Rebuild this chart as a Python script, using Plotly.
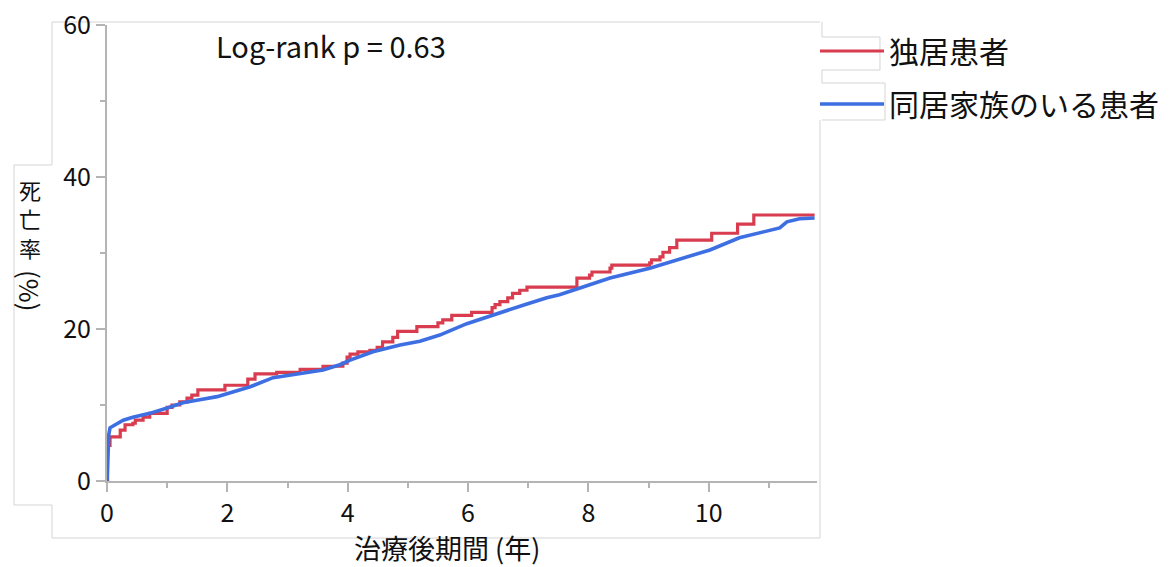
import plotly.graph_objects as go

# ---- data ----
alone_t = [0, 0.01, 0.05, 0.22, 0.30, 0.43, 0.47, 0.60, 0.71, 1.00, 1.08, 1.21, 1.33, 1.41, 1.51,
           1.96, 2.34, 2.46, 2.82, 3.21, 3.59, 3.92, 3.99, 4.04, 4.17, 4.37, 4.49, 4.58, 4.75, 4.83,
           5.15, 5.50, 5.58, 5.73, 6.06, 6.40, 6.45, 6.53, 6.66, 6.74, 6.86, 6.98, 7.81, 8.02, 8.06,
           8.36, 8.39, 9.02, 9.05, 9.19, 9.24, 9.35, 9.47, 10.05, 10.48, 10.75, 11.76]
alone_y = [0, 4.7, 5.8, 6.7, 7.4, 7.6, 8.0, 8.4, 8.9, 9.7, 10.0, 10.4, 10.9, 11.3, 12.0,
           12.6, 13.4, 14.1, 14.3, 14.7, 15.1, 15.5, 16.3, 16.7, 17.0, 17.2, 17.6, 18.3, 18.9, 19.7,
           20.3, 20.8, 21.2, 21.8, 22.2, 22.8, 23.2, 23.6, 24.1, 24.7, 25.1, 25.5, 26.7, 27.1, 27.5,
           28.0, 28.4, 28.7, 29.1, 29.5, 30.1, 30.7, 31.7, 32.6, 33.8, 35.0, 35.0]

family_t = [0, 0.01, 0.02, 0.03, 0.05, 0.17, 0.27, 0.43, 0.71, 1.00, 1.26, 1.54, 1.83, 2.09, 2.38,
            2.76, 3.32, 3.59, 3.87, 4.04, 4.42, 4.87, 5.20, 5.53, 5.98, 6.36, 6.69, 6.98, 7.31, 7.52,
            7.86, 8.36, 9.02, 9.47, 10.02, 10.51, 11.18, 11.30, 11.51, 11.76]
family_y = [0, 2.8, 4.7, 6.1, 7.0, 7.6, 8.0, 8.4, 8.9, 9.6, 10.3, 10.7, 11.1, 11.7, 12.4,
            13.6, 14.3, 14.6, 15.3, 15.9, 17.0, 17.9, 18.4, 19.2, 20.7, 21.7, 22.6, 23.3, 24.1, 24.5,
            25.4, 26.7, 28.0, 29.1, 30.4, 32.0, 33.3, 34.1, 34.5, 34.6]

series_names = ["独居患者", "同居家族のいる患者"]
x_ticks = [0, 2, 4, 6, 8, 10]
y_ticks = [0, 20, 40, 60]
x_title = "治療後期間 (年)"
y_title_chars = ["死", "亡", "率"]
y_title_unit = "(%)"
note = "Log-rank p = 0.63"

FONT = "Noto Sans CJK JP, Noto Sans, sans-serif"
RED = "#d83c4e"
BLUE = "#3d6fe2"

fig = go.Figure()
fig.add_trace(go.Scatter(x=alone_t, y=alone_y, mode="lines", name=series_names[0],
                         line=dict(color=RED, width=3.2, shape="hv"), legendgroup="a"))
fig.add_trace(go.Scatter(x=family_t, y=family_y, mode="lines", name=series_names[1],
                         line=dict(color=BLUE, width=3.6), legendgroup="b"))

# plot-area geometry helpers (pixel -> paper)
L, R, T, B = 107, 817, 25, 481
def px(x):
    return (x - L) / (R - L)
def py(y):
    return (B - y) / (B - T)

# light gray frame fragments seen in the reference
pts = [(820, 22), (52, 22), (52, 165), (14, 165), (14, 505), (52, 505), (52, 538), (820, 538), (820, 120)]
path = "M " + " L ".join(f"{px(a):.4f},{py(b):.4f}" for a, b in pts)
leg_pts = [(822, 22), (822, 37), (880, 37), (880, 70), (822, 70), (822, 83), (885, 83), (885, 120), (822, 120)]
path2 = "M " + " L ".join(f"{px(a):.4f},{py(b):.4f}" for a, b in leg_pts)
for p in (path, path2):
    fig.add_shape(type="path", path=p, xref="paper", yref="paper",
                  line=dict(color="#d4d4d4", width=1), layer="below")

fig.add_annotation(text=note, x=px(331), y=py(45), xref="paper", yref="paper",
                   xanchor="center", yanchor="middle",
                   showarrow=False, font=dict(family=FONT, size=29, color="#111"))
for ch, yy in zip(y_title_chars, [189, 218, 247]):
    fig.add_annotation(text=ch, x=px(30), y=py(yy), xref="paper", yref="paper",
                       xanchor="center", yanchor="middle",
                       showarrow=False, font=dict(family=FONT, size=22, color="#111"))
fig.add_annotation(text=y_title_unit, textangle=90, x=px(30), y=py(291), xref="paper", yref="paper",
                   xanchor="center", yanchor="middle",
                   showarrow=False, font=dict(family=FONT, size=26, color="#111"))
fig.add_annotation(text=x_title, x=px(447), y=py(547), xref="paper", yref="paper",
                   xanchor="center", yanchor="middle",
                   showarrow=False, font=dict(family=FONT, size=27, color="#111"))

axis_common = dict(showline=True, linecolor="#b4b4b4", linewidth=2, ticks="outside",
                   tickcolor="#b4b4b4", tickwidth=2, ticklen=9, showgrid=False, zeroline=False,
                   automargin=False, tickfont=dict(family=FONT, size=25, color="#111"))
fig.update_xaxes(range=[0, 11.8], tickvals=x_ticks, **axis_common,
                 minor=dict(dtick=1, ticks="outside", ticklen=5, tickcolor="#b4b4b4", tickwidth=2))
fig.update_yaxes(range=[0, 60], tickvals=y_ticks, **axis_common,
                 minor=dict(dtick=10, ticks="outside", ticklen=5, tickcolor="#b4b4b4", tickwidth=2))

fig.update_layout(
    width=1176, height=567,
    margin=dict(l=L, r=1176 - R, t=T, b=567 - B, autoexpand=False),
    plot_bgcolor="white", paper_bgcolor="white",
    font=dict(family=FONT, color="#111"),
    legend=dict(x=px(815), y=py(25), xanchor="left", yanchor="top",
                font=dict(family=FONT, size=30, color="#111"),
                tracegroupgap=11, itemwidth=64, bgcolor="rgba(0,0,0,0)"),
)

fig.write_html("out.html", config={"displayModeBar": False},
               post_script="document.body.style.margin='0';document.body.style.overflow='hidden';")
